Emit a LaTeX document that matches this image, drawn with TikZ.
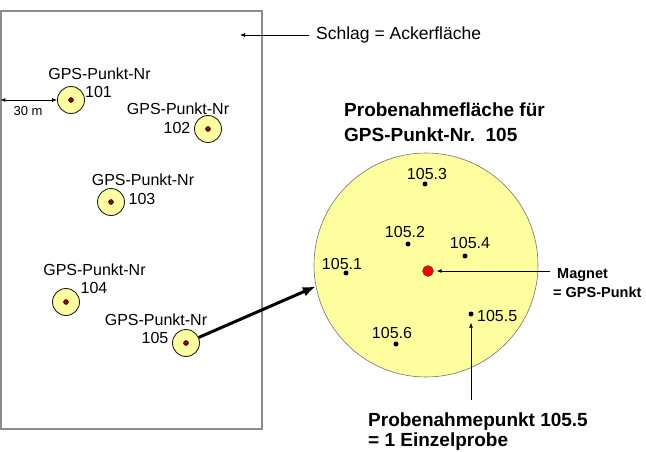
\documentclass[tikz,border=0pt]{standalone}
\usepackage{fontspec}
\setmainfont{Liberation Sans}
\usetikzlibrary{arrows.meta}
\definecolor{gelb}{RGB}{255,255,160}
\definecolor{kernrot}{RGB}{150,0,0}
\begin{document}
\begin{tikzpicture}[x=1pt, y=-1pt]
    \tikzset{gps/.style={circle, draw=black!85, line width=0.9pt, fill=gelb, minimum size=27pt, inner sep=0pt},
             kern/.style={circle, draw=black, fill=kernrot, line width=0.4pt, minimum size=5pt, inner sep=0pt},
             probe/.style={circle, fill=black, minimum size=5pt, inner sep=0pt},
             txt/.style={font=\fontsize{16}{18}\selectfont, inner sep=1pt},
             fett/.style={font=\bfseries\fontsize{#1}{#1}\selectfont, inner sep=0pt, anchor=base west},
             pfeil/.style={-{Latex[length=5pt, width=4pt]}, line width=0.7pt}}
    \useasboundingbox (0,0) rectangle (646,452);
    % Schlag
    \node[draw=black!45, line width=1.1pt, minimum width=261pt, minimum height=418pt, inner sep=0pt] (schlag) at (131.5,220) {};
    \node[txt, font=\fontsize{17.5}{20}\selectfont, anchor=west] (schlagtxt) at (315,35) {Schlag = Ackerfläche};
    \coordinate (schlagziel) at (240,35);
    \draw[pfeil, shorten <=6pt] (schlagtxt.west) -- (schlagziel);
    % GPS-Punkte im Schlag
    \foreach \n/\x/\y/\gx/\gy/\nx/\ny in {101/71/100/99.5/74/98.5/92, 102/208/129/178/109/177/128,
        103/111/202/143/180/142/199, 104/66/302/94.5/270/94/288, 105/186/343/156/320/155/338} {
      \node[gps] (p\n) at (\x,\y) {};
      \node[kern] (k\n) at (p\n) {};
      \node[txt] (g\n) at (\gx,\gy) {GPS-Punkt-Nr};
      \node[txt] (n\n) at (\nx,\ny) {\n};
    }
    % Abstand zum Rand
    \coordinate (rand) at (schlag.west |- p101);
    \draw[{Latex[length=5pt, width=4pt]}-{Latex[length=5pt, width=4pt]}, line width=0.7pt] (rand) -- (p101.west);
    \node[txt, font=\fontsize{13}{15}\selectfont] (abstand) at (28,111) {30 m};
    % Probenahmeflaeche
    \node[circle, draw=black!55, fill=gelb, line width=0.6pt, minimum size=224pt, inner sep=0pt] (flaeche) at (426,265) {};
    \draw[-{Latex[length=13pt, width=10pt]}, line width=3pt] (p105) -- (flaeche.191);
    \node[fett=19] (titel1) at (344,117) {Probenahmefläche für};
    \node[fett=19] (titel2) at (344,142) {GPS-Punkt-Nr.\ \ 105};
    \node[circle, draw=black!70, fill=red, minimum size=11pt, inner sep=0pt] (magnet) at (428,271) {};
    \foreach \i/\x/\y/\lx/\ly in {1/346/273/342/264, 2/408/244/405/232, 3/425/184/427/174,
        4/465/256/470/243, 6/396/344/392/333} {
      \node[probe] (s\i) at (\x,\y) {};
      \node[txt] (l\i) at (\lx,\ly) {105.\i};
    }
    \node[probe] (s5) at (471,314) {};
    \node[txt, anchor=west] (l5) at (476,316) {105.5};
    % Erklaerungen
    \node[fett=14.5] (magnettxt) at (557,278) {Magnet};
    \node[fett=14.5] (gpstxt) at (553,297) {= GPS-Punkt};
    \draw[pfeil, shorten <=7pt, shorten >=3pt] (magnettxt.west |- magnet) -- (magnet);
    \node[fett=19] (ptxt1) at (368,426) {Probenahmepunkt 105.5};
    \node[fett=19] (ptxt2) at (368,446) {= 1 Einzelprobe};
    \draw[pfeil, shorten <=12pt, shorten >=6pt] (ptxt1.north -| s5) -- (s5);
  \end{tikzpicture}
\end{document}
